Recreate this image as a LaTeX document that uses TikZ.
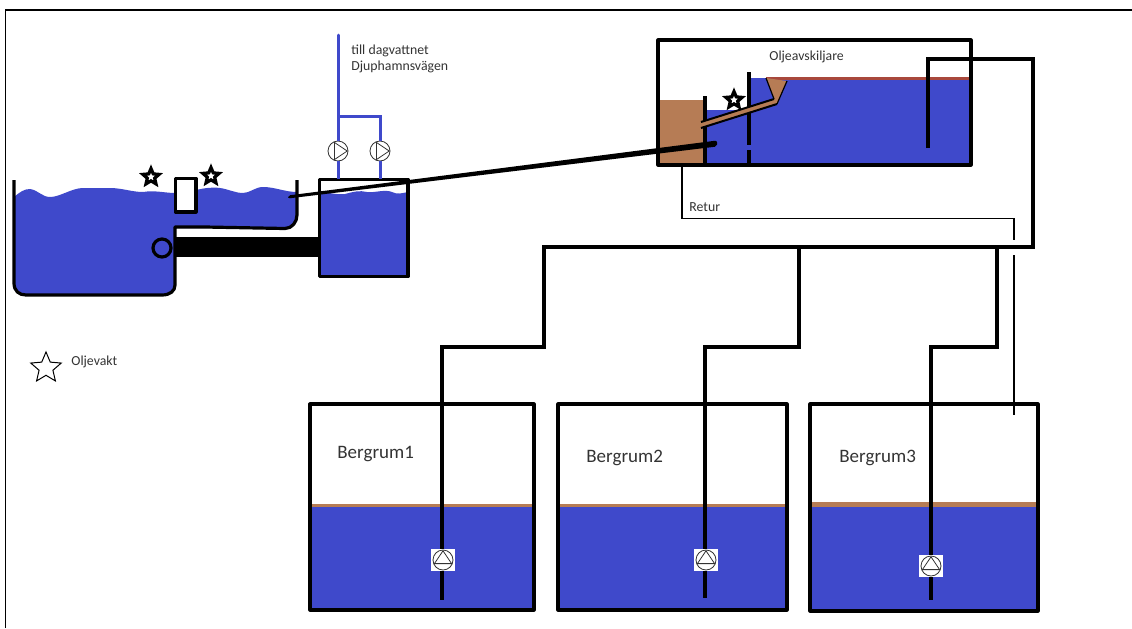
\documentclass[tikz,border=0pt]{standalone}
\usepackage{fontspec}
\setmainfont{Carlito}
\usetikzlibrary{shapes.geometric}
\definecolor{water}{HTML}{3F49CB}
\definecolor{oil}{HTML}{B67C55}
\definecolor{oilred}{HTML}{A8483C}
\definecolor{label}{HTML}{333333}
\tikzset{
  wall/.style={black,line width=1.6pt,line join=round},
  pipe/.style={black,line width=1.9pt,line join=miter},
  bluepipe/.style={water,line width=1.5pt},
  returline/.style={black,line width=0.6pt},
  guard/.style={star,star points=5,star point ratio=2.2,draw=black,fill=white,line width=1.6pt,inner sep=0pt,minimum size=8.5pt},
  pumpbox/.style={rectangle,fill=white,inner sep=0pt,minimum width=12pt,minimum height=11pt},
  pumpup/.style={circle,draw=black!80,fill=white,line width=0.4pt,inner sep=0pt,minimum size=10pt,
    path picture={\draw[black!80,line width=0.4pt] (path picture bounding box.west) ++(0.7pt,-1.8pt) -- ++(8.6pt,0pt) -- ++(-4.3pt,6.4pt) -- cycle;}},
  pumpright/.style={circle,draw=black!80,fill=white,line width=0.4pt,inner sep=0pt,minimum size=10pt,
    path picture={\draw[black!80,line width=0.4pt] (path picture bounding box.north) ++(-1.8pt,-0.7pt) -- ++(0pt,-8.6pt) -- ++(6.4pt,4.3pt) -- cycle;}},
  txt/.style={anchor=west,inner sep=0pt,text=label,font=\fontsize{6.9}{8}\selectfont},
  bigtxt/.style={anchor=west,inner sep=0pt,text=label,font=\fontsize{9.5}{11}\selectfont}
}
\begin{document}
\begin{tikzpicture}[x=0.5pt,y=-0.5pt]
\useasboundingbox (0,0) rectangle (1132,628);
% outer frame
\draw[black,line width=0.9pt] (5.5,628) -- (5.5,10) -- (1132,10);
% basin water
\fill[water] (14,197) .. controls (20,192) and (24,189) .. (30,189) .. controls (38,190) and (42,197) .. (50,197)
  .. controls (60,197) and (72,188) .. (83,188) -- (110,188) .. controls (122,188) and (132,192) .. (143,192)
  .. controls (155,190) and (165,193) .. (175,193) -- (196,190) .. controls (205,188) and (212,187) .. (220,188)
  .. controls (228,189) and (235,193) .. (243,193) .. controls (250,193) and (255,187) .. (263,187)
  .. controls (275,187) and (285,192) .. (297,192) -- (297,215) .. controls (297,222) and (292,228) .. (285,228)
  -- (175,228) -- (175,285) .. controls (175,291) and (170,295) .. (162,295) -- (26,295)
  .. controls (19,295) and (14,291) .. (14,283) -- cycle;
\draw[wall] (14,180) -- (14,283) .. controls (14,291) and (19,295) .. (26,295) -- (162,295)
  .. controls (170,295) and (175,291) .. (175,285) -- (175,227) -- (205,227) -- (285,228.5)
  .. controls (292,228.5) and (297,222) .. (297,215) -- (297,180);
\draw[wall,fill=white] (175.5,178.5) rectangle (196,212);
\fill[black] (175,237) rectangle (320,257);
\draw[wall,fill=water] (162,248) circle (9);
% sump
\fill[water] (319,192) .. controls (328,192) and (335,195) .. (345,194) .. controls (352,192) and (360,190) .. (367,192)
  .. controls (375,193) and (385,189) .. (392,192) .. controls (398,195) and (402,193) .. (408,192) -- (408,276) -- (319,276) -- cycle;
\draw[wall] (319.5,179.5) rectangle (408,276.5);
% discharge to stormwater
\coordinate (outlet) at (338,35);
\coordinate (tee) at (338,116);
\coordinate (corner) at (380,116);
\coordinate (sumpA) at (338,179);
\coordinate (sumpB) at (380,179);
\node[pumpright] (pumpA) at (338,151) {};
\node[pumpright] (pumpB) at (380,151) {};
\draw[bluepipe,line cap=round] (outlet) -- (tee);
\draw[bluepipe] (tee) -- (pumpA);
\draw[bluepipe] (pumpA) -- (sumpA);
\draw[bluepipe] (tee) -- (corner) -- (pumpB);
\draw[bluepipe] (pumpB) -- (sumpB);
\node[txt] (till) at (351,51) {till dagvattnet};
\node[txt] (djup) at (351,67) {Djuphamnsvägen};
% separator
\fill[oil] (658,100) rectangle (705,164);
\fill[water] (705,110) rectangle (749,164);
\fill[water] (749,78) rectangle (971,164);
\fill[oilred] (766,77) rectangle (971,80);
\draw[wall] (705,96) -- (705,164);
\draw[wall] (749,72) -- (749,145);
\draw[wall] (749,150) -- (749,164);
\fill[oil] (766,78) -- (787,81) -- (777,104) -- (701,128) -- (701,122) -- (774,99) -- cycle;
\draw[black,line width=0.6pt] (766,78) -- (774,99);
\draw[black,line width=1pt] (774,99) -- (701,122);
\draw[black,line width=0.6pt] (787,81) -- (777,104);
\draw[black,line width=1pt] (777,104) -- (701,128);
\draw[wall] (658,40) rectangle (971,165);
\fill[black,rounded corners=1pt] (288,195.5) -- (717,140.5) -- (717,146.5) -- (288,198.5) -- cycle;
\node[guard] (starSep) at (734,100) {};
\node[guard] (starA) at (151,177) {};
\node[guard] (starB) at (211,176) {};
\node[txt] (sep) at (769,57) {Oljeavskiljare};
% return line
\coordinate (returA) at (682,165);
\coordinate (returB) at (682,218.5);
\coordinate (returC) at (1014,218.5);
\coordinate (returD) at (1014,240);
\coordinate (returE) at (1014,255);
\coordinate (returF) at (1014,415);
\draw[returline] (returA) -- (returB) -- (returC) -- (returD);
\draw[returline] (returE) -- (returF);
\node[txt] (retur) at (689,207.5) {Retur};
% legend
\node[star,star points=5,star point ratio=2.2,draw=black,line width=0.5pt,inner sep=0pt,minimum size=16pt] (starKey) at (46,368) {};
\node[txt] (key) at (71,362) {Oljevakt};
% caverns
\fill[water] (310,507) rectangle (534,610);
\fill[oil] (310,504) rectangle (534,507);
\fill[water] (558,507) rectangle (787,610);
\fill[oil] (558,504) rectangle (787,507);
\fill[water] (810,507) rectangle (1038,611);
\fill[oil] (810,502) rectangle (1038,507);
\draw[wall] (310,404) rectangle (534,610);
\draw[wall] (558,404) rectangle (787,610);
\draw[wall] (810,404) rectangle (1038,611);
\node[bigtxt] (berg1) at (337,454) {Bergrum1};
\node[bigtxt] (berg2) at (586,458) {Bergrum2};
\node[bigtxt] (berg3) at (839,458) {Bergrum3};
% pipes
\coordinate (inlet) at (928,148);
\coordinate (inletTop) at (928,59);
\coordinate (rightTop) at (1033,59);
\coordinate (rightLow) at (1033,247);
\coordinate (mainEnd) at (544,247);
\coordinate (drop1) at (544,347);
\coordinate (over1) at (442,347);
\coordinate (foot1) at (442,600);
\coordinate (tee2) at (799,247);
\coordinate (drop2) at (799,347);
\coordinate (over2) at (705,347);
\coordinate (foot2) at (705,598);
\coordinate (tee3) at (997,247);
\coordinate (drop3) at (997,347);
\coordinate (over3) at (931,347);
\coordinate (foot3) at (931,600);
\draw[pipe] (inlet) -- (inletTop) -- (rightTop) -- (rightLow) -- (mainEnd) -- (drop1) -- (over1) -- (foot1);
\draw[pipe] (tee2) -- (drop2) -- (over2) -- (foot2);
\draw[pipe] (tee3) -- (drop3) -- (over3) -- (foot3);
\node[pumpbox] at (443,560) {};
\node[pumpup] (pump1) at (443,560) {};
\node[pumpbox] at (706,560) {};
\node[pumpup] (pump2) at (706,560) {};
\node[pumpbox] at (931,566) {};
\node[pumpup] (pump3) at (931,566) {};
\end{tikzpicture}
\end{document}
